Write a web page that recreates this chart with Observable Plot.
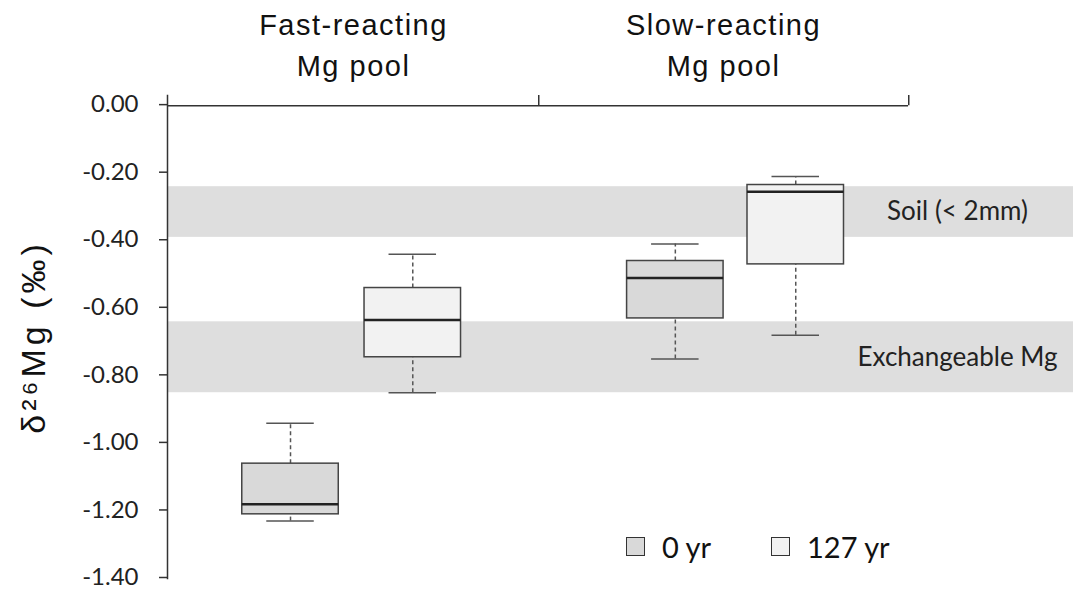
<!DOCTYPE html>
<html>
<head>
<meta charset="utf-8">
<script src="https://cdn.jsdelivr.net/npm/d3@7"></script>
<script src="https://cdn.jsdelivr.net/npm/@observablehq/plot@0.6"></script>
<style>
  body { margin: 0; background: #fff; }
  #wrap { position: relative; width: 1073px; height: 589px; }
  .legend { position: absolute; top: 529px; font-family: Lato, sans-serif; font-size: 29px; color: #111; display: flex; align-items: center; }
  .legend .sw { width: 17px; height: 17px; border: 1.5px solid #333; margin-right: 17px; }
  g[aria-label="x-axis tick label"] text { letter-spacing: 1.5px; }
</style>
</head>
<body>
<div id="wrap"></div>
<script>
// ---- data ----
const pools = ["Fast-reacting\nMg pool", "Slow-reacting\nMg pool"];
const ages = ["0 yr", "127 yr"];
const ageFill = ["#d9d9d9", "#f2f2f2"];

const boxPool = [pools[0], pools[0], pools[1], pools[1]];
const boxAge = ["0 yr", "127 yr", "0 yr", "127 yr"];
const whiskerHigh = [-0.94, -0.44, -0.41, -0.21];
const q3 = [-1.06, -0.54, -0.46, -0.235];
const median = [-1.18, -0.635, -0.51, -0.255];
const q1 = [-1.21, -0.745, -0.63, -0.47];
const whiskerLow = [-1.23, -0.85, -0.75, -0.68];

const bandLabels = ["Soil (< 2mm)", "Exchangeable Mg"];
const bandHigh = [-0.24, -0.64];
const bandLow = [-0.39, -0.85];

const yTicks = [0, -0.2, -0.4, -0.6, -0.8, -1.0, -1.2, -1.4];
const yLabel = "δ²⁶Mg (‰)";

// ---- layout ----
const W = 1073, H = 589;
const mL = 167, mR = 165, mT = 95, mB = 11;
const bw = (W - mL - mR) / pools.length;
// box centre as a fraction of each pool's band, [pool index][age index]
const boxCenter = [[0.33, 0.66], [0.37, 0.695]];
const boxW = 97, capW = 48;
const ink = "#333";

const boxes = boxPool.map((p, i) => ({
  pool: p, age: boxAge[i], hi: whiskerHigh[i], q3: q3[i], med: median[i], q1: q1[i], lo: whiskerLow[i]
}));
const bands = bandLabels.map((l, i) => ({label: l, hi: bandHigh[i], lo: bandLow[i]}));

function insets(c, w) {
  return {insetLeft: c * bw - w / 2, insetRight: bw - c * bw - w / 2};
}

const boxMarks = pools.flatMap((pool, pi) => ages.flatMap((age, k) => {
  const f = d => d.age === age && d.pool === pool;
  const c = boxCenter[pi][k];
  const dx = (c - 0.5) * bw;
  return [
    Plot.ruleX(boxes, {filter: f, x: "pool", y1: "q3", y2: "hi", dx, stroke: "#555", strokeWidth: 1.5, strokeDasharray: "4,3"}),
    Plot.ruleX(boxes, {filter: f, x: "pool", y1: "lo", y2: "q1", dx, stroke: "#555", strokeWidth: 1.5, strokeDasharray: "4,3"}),
    Plot.tickY(boxes, {filter: f, x: "pool", y: "hi", ...insets(c, capW), stroke: "#555", strokeWidth: 1.5}),
    Plot.tickY(boxes, {filter: f, x: "pool", y: "lo", ...insets(c, capW), stroke: "#555", strokeWidth: 1.5}),
    Plot.barY(boxes, {filter: f, x: "pool", y1: "q1", y2: "q3", ...insets(c, boxW), fill: ageFill[k], stroke: "#444", strokeWidth: 1.5}),
    Plot.tickY(boxes, {filter: f, x: "pool", y: "med", ...insets(c, boxW), stroke: "#222", strokeWidth: 2.5})
  ];
}));

const chart = Plot.plot({
  width: W, height: H,
  marginLeft: mL, marginRight: mR, marginTop: mT, marginBottom: mB,
  style: {background: "#fff", overflow: "visible"},
  x: {domain: pools, padding: 0},
  y: {domain: [-1.4, 0.03]},
  marks: [
    Plot.rectY(bands, {y1: "lo", y2: "hi", fill: "#dedede", insetRight: -mR}),
    Plot.text(bands, {y: d => (d.lo + d.hi) / 2, text: "label", frameAnchor: "right", dx: 49, textAnchor: "middle", fontFamily: "Lato, sans-serif", fontSize: 26, fill: "#222"}),
    Plot.axisX({anchor: "top", tickSize: 0, tickPadding: 20, label: null, fontFamily: "Liberation Sans, Arial, sans-serif", fontSize: 29, fill: "#111", lineHeight: 1.38}),
    Plot.axisY({ticks: yTicks, tickFormat: d => d.toFixed(2), tickSize: 8, tickPadding: 21, label: null, stroke: ink, strokeWidth: 1.5, fontFamily: "Lato, sans-serif", fontSize: 24, dy: -1, fill: "#222"}),
    Plot.frame({anchor: "left", stroke: ink, strokeWidth: 1.5}),
    Plot.ruleY([0], {stroke: ink, strokeWidth: 1.5}),
    Plot.ruleX(pools, {x: d => d, y1: 0, y2: 0.03, dx: bw / 2, stroke: ink, strokeWidth: 1.5}),
    ...boxMarks,
    Plot.text([yLabel], {text: d => d, frameAnchor: "left", textAnchor: "middle", dx: -133, rotate: -90, fontFamily: "Liberation Sans, Arial, sans-serif", fontSize: 34, fill: "#111"})
  ]
});

// widen the rotated axis title to match the reference's letter spacing
chart.querySelectorAll("text").forEach(t => {
  if (t.textContent === yLabel) t.setAttribute("letter-spacing", "4px");
});

const wrap = document.getElementById("wrap");
wrap.appendChild(chart);
const legendLeft = [626, 771];
ages.forEach((a, i) => {
  const el = document.createElement("div");
  el.className = "legend";
  el.style.left = legendLeft[i] + "px";
  el.innerHTML = `<div class="sw" style="background:${ageFill[i]}"></div><span>${a}</span>`;
  wrap.appendChild(el);
});
</script>
</body>
</html>
